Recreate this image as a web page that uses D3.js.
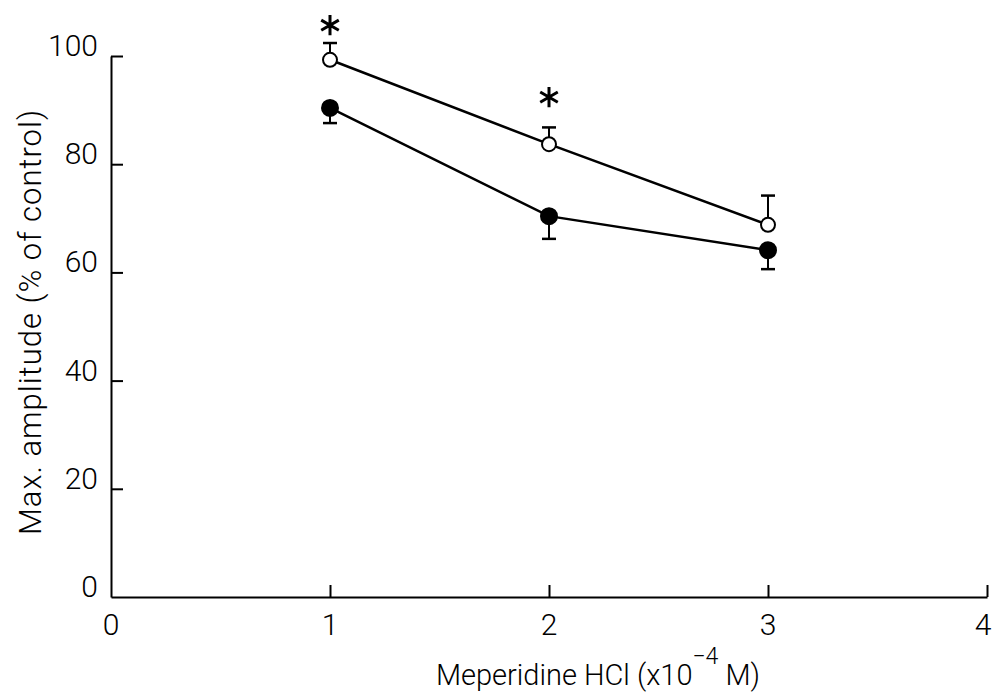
<!DOCTYPE html>
<html>
<head>
<meta charset="utf-8">
<script src="https://cdn.jsdelivr.net/npm/d3@7"></script>
<style>
  body { margin: 0; background: #fff; }
  text { font-family: Roboto, "DejaVu Sans", sans-serif; font-weight: 300; fill: #000; }
</style>
</head>
<body>
<div id="svgcontainer"></div>
<script>
var width = 993;
var height = 698;

// data
var doses = [1, 2, 3];
var openValues = [99.3, 83.7, 68.8];
var openErrors = [3.1, 3.1, 5.4];     // drawn upward
var filledValues = [90.4, 70.4, 64.1];
var filledErrors = [2.8, 4.2, 3.5];   // drawn downward
var starDoses = [1, 2];
var starValues = [105.7, 92.4];
var xTicks = [0, 1, 2, 3, 4];
var yTicks = [0, 20, 40, 60, 80, 100];

var x = d3.scaleLinear().domain([0, 4]).range([111, 987]);
var y = d3.scaleLinear().domain([0, 100]).range([597, 56]);

var svg = d3.select("#svgcontainer")
   .append("svg")
   .attr("width", width)
   .attr("height", height);

// axes, ticks pointing inward
var xAxis = svg.append("g")
   .attr("transform", "translate(0," + y(0) + ")")
   .call(d3.axisTop(x).tickValues(xTicks).tickSize(12).tickSizeOuter(0).tickFormat(""));
var yAxis = svg.append("g")
   .attr("transform", "translate(" + x(0) + ",0)")
   .call(d3.axisRight(y).tickValues(yTicks).tickSize(12).tickSizeOuter(0).tickFormat(""));

svg.selectAll(".domain").attr("stroke", "#000").attr("stroke-width", 2);
svg.selectAll(".tick line").attr("stroke", "#000").attr("stroke-width", 2);
// the zero ticks sit on the other axis, hide them
xAxis.selectAll(".tick").filter(function(d) { return d == 0; }).select("line").remove();
yAxis.selectAll(".tick").filter(function(d) { return d == 0; }).select("line").remove();

// tick labels (the last one is pulled in so it stays on the page)
svg.selectAll(".xlab")
   .data(xTicks)
   .enter()
   .append("text")
   .attr("x", function(d) { return Math.min(x(d), width - 10); })
   .attr("y", 635)
   .attr("text-anchor", "middle")
   .attr("font-size", "30px")
   .text(function(d) { return d; });

svg.selectAll(".ylab")
   .data(yTicks)
   .enter()
   .append("text")
   .attr("x", 98)
   .attr("y", function(d) { return y(d); })
   .attr("text-anchor", "end")
   .attr("font-size", "30px")
   .text(function(d) { return d; });

// axis titles
svg.append("text")
   .attr("transform", "translate(41,322) rotate(-90)")
   .attr("text-anchor", "middle")
   .attr("font-size", "31px")
   .attr("letter-spacing", "1px")
   .text("Max. amplitude (% of control)");

var xt = svg.append("text")
   .attr("x", 760)
   .attr("y", 685)
   .attr("text-anchor", "end")
   .attr("font-size", "29px");
xt.append("tspan").text("Meperidine HCl (x10");
xt.append("tspan").attr("dy", -21).attr("font-size", "23px").text("−4");
xt.append("tspan").attr("dy", 21).text(" M)");

var line = d3.line()
   .x(function(d) { return x(d[0]); })
   .y(function(d) { return y(d[1]); });

var openPts = doses.map(function(d, i) { return [d, openValues[i], openErrors[i]]; });
var filledPts = doses.map(function(d, i) { return [d, filledValues[i], -filledErrors[i]]; });

[openPts, filledPts].forEach(function(pts, k) {
   var g = svg.append("g");
   g.append("path")
      .datum(pts)
      .attr("d", line)
      .attr("fill", "none")
      .attr("stroke", "#000")
      .attr("stroke-width", 2.5);

   g.selectAll(".err")
      .data(pts)
      .enter()
      .append("line")
      .attr("x1", function(d) { return x(d[0]); })
      .attr("x2", function(d) { return x(d[0]); })
      .attr("y1", function(d) { return y(d[1]); })
      .attr("y2", function(d) { return y(d[1] + d[2]); })
      .attr("stroke", "#000")
      .attr("stroke-width", 2);

   g.selectAll(".cap")
      .data(pts)
      .enter()
      .append("line")
      .attr("x1", function(d) { return x(d[0]) - 7; })
      .attr("x2", function(d) { return x(d[0]) + 7; })
      .attr("y1", function(d) { return y(d[1] + d[2]); })
      .attr("y2", function(d) { return y(d[1] + d[2]); })
      .attr("stroke", "#000")
      .attr("stroke-width", 2.5);

   g.selectAll("circle")
      .data(pts)
      .enter()
      .append("circle")
      .attr("cx", function(d) { return x(d[0]); })
      .attr("cy", function(d) { return y(d[1]); })
      .attr("r", k == 0 ? 7 : 8)
      .attr("fill", k == 0 ? "#fff" : "#000")
      .attr("stroke", "#000")
      .attr("stroke-width", 2);
});

// significance stars
svg.selectAll(".star")
   .data(starDoses)
   .enter()
   .append("path")
   .attr("transform", function(d, i) { return "translate(" + x(d) + "," + y(starValues[i]) + ")"; })
   .attr("d", d3.symbol().type(d3.symbolAsterisk).size(290))
   .attr("fill", "none")
   .attr("stroke", "#000")
   .attr("stroke-width", 3);
</script>
</body>
</html>
